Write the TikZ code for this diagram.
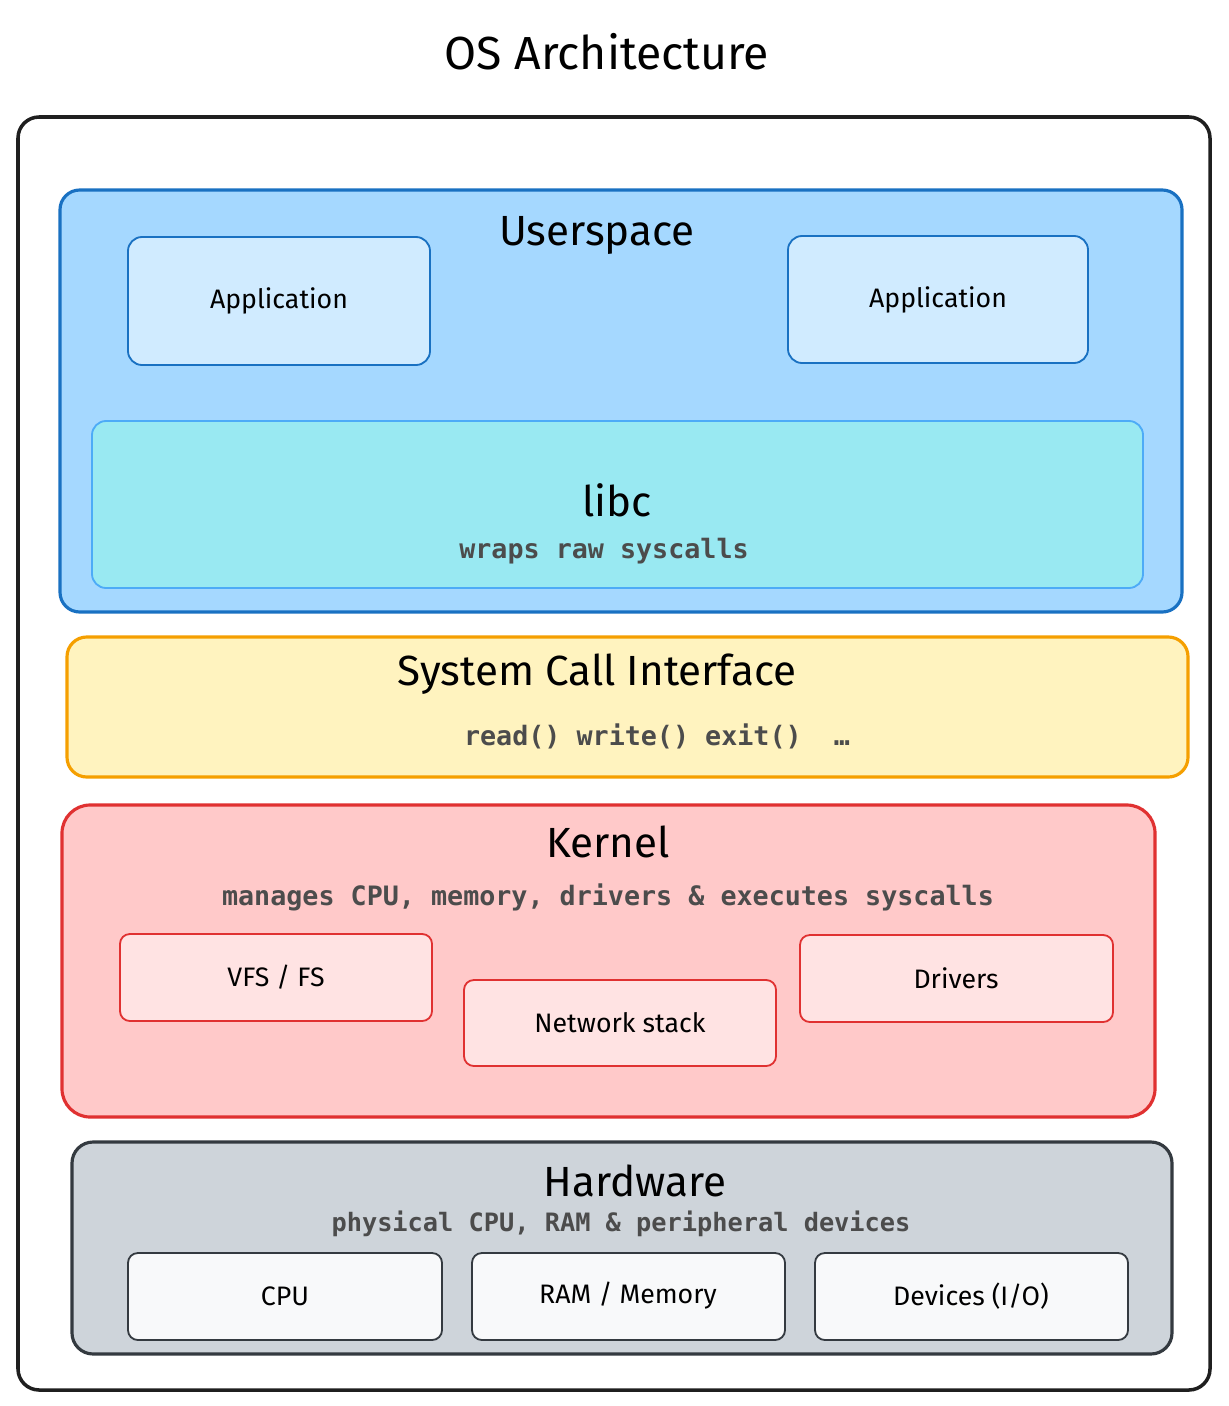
\documentclass[tikz,border=0pt]{standalone}
\usepackage{fontspec}
\setmainfont{Fira Sans}
\setmonofont{DejaVu Sans Mono}
\begin{document}
\begin{tikzpicture}[x=0.05cm,y=-0.05cm,
  box/.style={draw,line width=2.6pt,rounded corners=#1},
  box/.default=20pt,
  hd/.style={font=\fontsize{60}{70}\selectfont},
  lb/.style={font=\fontsize{38}{44}\selectfont},
  mono/.style={font=\ttfamily\bfseries\fontsize{38}{44}\selectfont,text=black!70}]
\definecolor{usf}{HTML}{A5D8FF}\definecolor{usd}{HTML}{1971C2}
\definecolor{apf}{HTML}{D0EBFF}\definecolor{lcf}{HTML}{99E9F2}\definecolor{lcd}{HTML}{4DABF7}
\definecolor{scf}{HTML}{FFF3BF}\definecolor{scd}{HTML}{F59F00}
\definecolor{knf}{HTML}{FFC9C9}\definecolor{knd}{HTML}{E03131}\definecolor{kif}{HTML}{FFE3E3}
\definecolor{hwf}{HTML}{CED4DA}\definecolor{hwd}{HTML}{343A40}\definecolor{hif}{HTML}{F8F9FA}
\useasboundingbox (0,0) rectangle (1228,1406);
\node[font=\fontsize{66}{76}\selectfont] (title) at (607,52) {OS Architecture};
\draw[box=30pt,line width=5pt,draw=black!88,fill=white] (18,117) rectangle (1210,1390);
% userspace
\draw[box=28pt,fill=usf,draw=usd,line width=4.5pt] (60,190) rectangle (1182,612);
\node[hd] (us) at (597,235) {Userspace};
\draw[box,fill=apf,draw=usd] (128,237) rectangle (430,365);
\node[lb] (a1) at (279,301) {Application};
\draw[box,fill=apf,draw=usd] (788,236) rectangle (1088,363);
\node[lb] (a2) at (938,300) {Application};
\draw[box,fill=lcf,draw=lcd] (92,421) rectangle (1143,588);
\node[hd] (libc) at (617,500) {libc};
\node[mono] (libct) at (604,551) {wraps raw syscalls};
% syscall
\draw[box=28pt,fill=scf,draw=scd,line width=4.5pt] (67,637) rectangle (1188,777);
\node[hd] (sc) at (597,674) {System Call Interface};
\node[mono] (sct) at (657,736) {read() write() exit() \ …};
% kernel
\draw[box=40pt,fill=knf,draw=knd,line width=4.5pt] (62,805) rectangle (1155,1117);
\node[hd] (kn) at (608,842) {Kernel};
\node[mono] (knt) at (608,897) {manages CPU, memory, drivers \& executes syscalls};
\draw[box=14pt,fill=kif,draw=knd] (120,934) rectangle (432,1021);
\node[lb] (vfs) at (276,977) {VFS / FS};
\draw[box=14pt,fill=kif,draw=knd] (464,980) rectangle (776,1066);
\node[lb] (net) at (620,1023) {Network stack};
\draw[box=14pt,fill=kif,draw=knd] (800,935) rectangle (1113,1022);
\node[lb] (drv) at (956,978) {Drivers};
% hardware
\draw[box=30pt,fill=hwf,draw=hwd,line width=4.5pt] (72,1142) rectangle (1172,1354);
\node[hd] (hw) at (635,1181) {Hardware};
\node[mono,font=\ttfamily\bfseries\fontsize{36}{40}\selectfont] (hwt) at (621,1224) {physical CPU, RAM \& peripheral devices};
\draw[box=14pt,fill=hif,draw=hwd] (128,1253) rectangle (442,1340);
\node[lb] (cpu) at (285,1296) {CPU};
\draw[box=14pt,fill=hif,draw=hwd] (472,1253) rectangle (785,1340);
\node[lb] (ram) at (628,1296) {RAM / Memory};
\draw[box=14pt,fill=hif,draw=hwd] (815,1253) rectangle (1128,1340);
\node[lb] (dev) at (971,1296) {Devices (I/O)};
\end{tikzpicture}
\end{document}
